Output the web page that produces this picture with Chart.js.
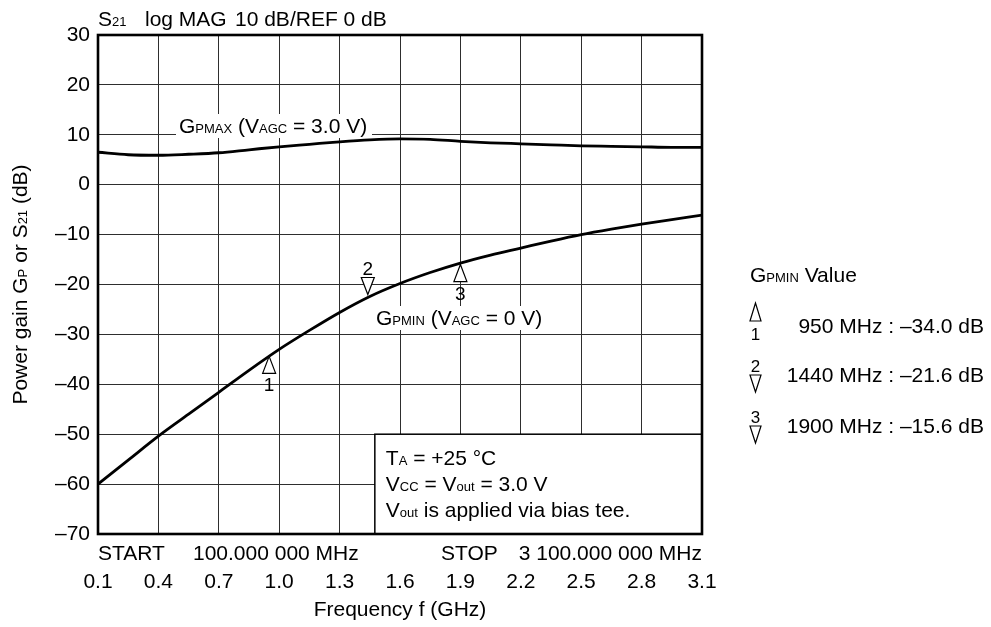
<!DOCTYPE html>
<html>
<head>
<meta charset="utf-8">
<script src="https://cdn.jsdelivr.net/npm/chart.js@4.4.1/dist/chart.umd.min.js"></script>
<style>
  html, body { margin: 0; padding: 0; background: #fff; }
</style>
</head>
<body>
<canvas id="chart" width="991" height="627"></canvas>
<script>
// frequency (GHz) and gain (dB)
const freqs = [0.1, 0.25, 0.4, 0.55, 0.7, 0.85, 1.0, 1.15, 1.3, 1.45, 1.6, 1.75, 1.9, 2.05, 2.2, 2.35, 2.5, 2.65, 2.8, 2.95, 3.1];
const gpMax = [6.5, 6.0, 5.9, 6.1, 6.4, 7.0, 7.6, 8.1, 8.6, 9.0, 9.2, 9.1, 8.7, 8.4, 8.2, 8.0, 7.8, 7.7, 7.6, 7.5, 7.5];
const gpMin = [-60, -55.2, -50.4, -46.0, -41.6, -37.2, -33.0, -29.2, -25.6, -22.4, -19.8, -17.6, -15.7, -14.1, -12.7, -11.3, -10.0, -8.9, -7.9, -7.0, -6.1];

// markers on the GPMIN trace
const markerFreqs = [0.95, 1.44, 1.9];
const markerGains = [-34.0, -21.6, -15.6];
const markerNames = ['1', '2', '3'];
const markerDown = [false, true, false];
const legendText = ['950 MHz : –34.0 dB', '1440 MHz : –21.6 dB', '1900 MHz : –15.6 dB'];
const legendDown = [false, true, true];

const xTickValues = [0.1, 0.4, 0.7, 1.0, 1.3, 1.6, 1.9, 2.2, 2.5, 2.8, 3.1];

const FONT = '"Liberation Sans", Arial, Helvetica, sans-serif';
const FS = 21;

// draw text where segments starting with "_" are small subscripts
function rich(ctx, segs, x, y, size, align) {
  const parts = segs.map(s => s.startsWith('_')
    ? { t: s.slice(1), f: Math.round(size * 0.6) }
    : { t: s, f: size });
  let w = 0;
  parts.forEach(p => { ctx.font = p.f + 'px ' + FONT; p.w = ctx.measureText(p.t).width; w += p.w; });
  let cx = align === 'right' ? x - w : align === 'center' ? x - w / 2 : x;
  ctx.textAlign = 'left';
  ctx.textBaseline = 'alphabetic';
  ctx.fillStyle = '#000';
  parts.forEach(p => { ctx.font = p.f + 'px ' + FONT; ctx.fillText(p.t, cx, y); cx += p.w; });
  return w;
}

function triangle(ctx, cx, apexY, baseY, halfW) {
  ctx.beginPath();
  ctx.moveTo(cx, apexY);
  ctx.lineTo(cx - halfW, baseY);
  ctx.lineTo(cx + halfW, baseY);
  ctx.closePath();
  ctx.fillStyle = '#fff';
  ctx.fill();
  ctx.strokeStyle = '#000';
  ctx.lineWidth = 1.2;
  ctx.stroke();
}

const decorations = {
  id: 'decorations',
  beforeDatasetsDraw(chart) {
    const ctx = chart.ctx;
    const x = chart.scales.x, y = chart.scales.y;
    ctx.save();
    // condition box, covers the grid
    const bx = x.getPixelForValue(1.475), by = y.getPixelForValue(-50);
    const bw = x.right - bx, bh = y.bottom - by;
    ctx.fillStyle = '#fff';
    ctx.fillRect(bx, by, bw, bh);
    ctx.strokeStyle = '#000';
    ctx.lineWidth = 1.5;
    ctx.strokeRect(bx, by, bw, bh);
    rich(ctx, ['T', '_A', ' = +25 °C'], bx + 11, by + 31, FS, 'left');
    rich(ctx, ['V', '_CC', ' = V', '_out', ' = 3.0 V'], bx + 11, by + 57, FS, 'left');
    rich(ctx, ['V', '_out', ' is applied via bias tee.'], bx + 11, by + 83, FS, 'left');

    // curve labels with white background
    ctx.fillStyle = '#fff';
    ctx.fillRect(176, 114, 196, 24);
    ctx.fillRect(373, 306, 188, 24);
    rich(ctx, ['G', '_PMAX', ' (V', '_AGC', ' = 3.0 V)'], 179, 133, FS, 'left');
    rich(ctx, ['G', '_PMIN', ' (V', '_AGC', ' = 0 V)'], 376, 325, FS, 'left');
    ctx.restore();
  },
  afterDraw(chart) {
    const ctx = chart.ctx;
    const a = chart.chartArea;
    const x = chart.scales.x, y = chart.scales.y;
    ctx.save();
    // frame
    ctx.strokeStyle = '#000';
    ctx.lineWidth = 2.6;
    ctx.strokeRect(a.left, a.top, a.right - a.left, a.bottom - a.top);

    // header
    rich(ctx, ['S', '_21'], a.left, 26, FS, 'left');
    rich(ctx, ['log MAG'], 145, 26, FS, 'left');
    rich(ctx, ['10 dB/REF 0 dB'], 235, 26, FS, 'left');

    // sweep text
    rich(ctx, ['START'], a.left, 560, FS, 'left');
    rich(ctx, ['100.000 000 MHz'], 193, 560, FS, 'left');
    rich(ctx, ['STOP'], 441, 560, FS, 'left');
    rich(ctx, ['3 100.000 000 MHz'], a.right, 560, FS, 'right');

    // axis titles
    rich(ctx, ['Frequency f (GHz)'], (a.left + a.right) / 2, 616, FS, 'center');
    ctx.save();
    ctx.translate(27, (a.top + a.bottom) / 2);
    ctx.rotate(-Math.PI / 2);
    rich(ctx, ['Power gain G', '_P', ' or S', '_21', ' (dB)'], 0, 0, FS, 'center');
    ctx.restore();

    // markers
    markerFreqs.forEach((f, i) => {
      const px = x.getPixelForValue(f), py = y.getPixelForValue(markerGains[i]);
      if (markerDown[i]) {
        triangle(ctx, px, py + 2, py - 15, 6.5);
        rich(ctx, [markerNames[i]], px, py - 17, 19, 'center');
      } else {
        triangle(ctx, px, py + 2, py + 19, 6.5);
        rich(ctx, [markerNames[i]], px, py + 37, 19, 'center');
      }
    });

    // value legend
    rich(ctx, ['G', '_PMIN', ' Value'], 750, 282, FS, 'left');
    const rows = [333, 382, 433];
    legendText.forEach((t, i) => {
      const r = rows[i];
      const cx = 755.5;
      if (legendDown[i]) {
        rich(ctx, [markerNames[i]], cx, r - 10, 17, 'center');
        triangle(ctx, cx, r + 10, r - 7, 5.5);
      } else {
        triangle(ctx, cx, r - 30, r - 12, 5.5);
        rich(ctx, [markerNames[i]], cx, r + 7, 17, 'center');
      }
      rich(ctx, [t], 984, r, FS, 'right');
    });
    ctx.restore();
  }
};

new Chart(document.getElementById('chart'), {
  type: 'line',
  data: {
    datasets: [{
      label: 'GPMAX',
      data: freqs.map((f, i) => ({ x: f, y: gpMax[i] })),
      borderColor: '#000',
      borderWidth: 2.8,
      pointRadius: 0,
      cubicInterpolationMode: 'monotone',
      fill: false
    }, {
      label: 'GPMIN',
      data: freqs.map((f, i) => ({ x: f, y: gpMin[i] })),
      borderColor: '#000',
      borderWidth: 2.8,
      pointRadius: 0,
      cubicInterpolationMode: 'monotone',
      fill: false
    }]
  },
  options: {
    responsive: false,
    animation: false,
    layout: { padding: { left: 0, right: 289, top: 35, bottom: 0 } },
    plugins: { legend: { display: false }, tooltip: { enabled: false } },
    scales: {
      x: {
        type: 'linear',
        min: 0.1,
        max: 3.1,
        afterBuildTicks(s) { s.ticks = xTickValues.map(v => ({ value: v })); },
        afterFit(s) { s.height = 93; },
        grid: { color: '#2e2e2e', lineWidth: 1, drawTicks: false },
        border: { display: false },
        ticks: {
          padding: 36,
          color: '#000',
          font: { family: FONT, size: FS },
          maxRotation: 0,
          callback: v => Number(v).toFixed(1)
        }
      },
      y: {
        min: -70,
        max: 30,
        afterFit(s) { s.width = 98; },
        grid: { color: '#2e2e2e', lineWidth: 1, drawTicks: false },
        border: { display: false },
        ticks: {
          stepSize: 10,
          padding: 8,
          color: '#000',
          font: { family: FONT, size: FS },
          callback: v => v < 0 ? '–' + Math.abs(v) : String(v)
        }
      }
    }
  },
  plugins: [decorations]
});
</script>
</body>
</html>
